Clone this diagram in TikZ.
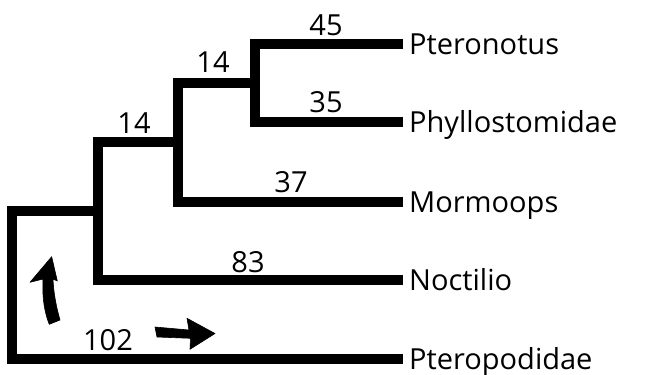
\documentclass[tikz,border=0pt]{standalone}
\usepackage{fontspec}
\setmainfont{Open Sans}
\begin{document}
\begin{tikzpicture}[x=1pt,y=-1pt,
  branch/.style={line width=10pt, line join=miter, line cap=butt},
  taxon/.style={anchor=base west, inner sep=0pt, font=\fontsize{29}{34}\selectfont},
  blen/.style={anchor=base, inner sep=0pt, font=\fontsize{29}{34}\selectfont},
  bigarrow/.style={fill=black, draw=black, line width=0.6pt, line join=round}]
\useasboundingbox (0,0) rectangle (646,375);
% tips
\coordinate (tPteron) at (403,44);
\coordinate (tPhyllo) at (403,122);
\coordinate (tMormo) at (403,202);
\coordinate (tNoct) at (403,280);
\coordinate (tPtero) at (403,359);
% internal nodes (where each stem meets its parent's vertical)
\coordinate (c3) at (255,83);
\coordinate (c2) at (178,142);
\coordinate (c1) at (98,211);
\coordinate (c0) at (12,211);
% taxon labels
\node[taxon] (Pteronotus) at (409,54.5) {Pteronotus};
\node[taxon] (Phyllostomidae) at (409,132.5) {Phyllostomidae};
\node[taxon] (Mormoops) at (409,212.5) {Mormoops};
\node[taxon] (Noctilio) at (409,290.5) {Noctilio};
\node[taxon] (Pteropodidae) at (409,369.5) {Pteropodidae};
% branches
\draw[branch] (tPteron) -- (tPteron -| c3) -- (tPhyllo -| c3) -- (tPhyllo);
\draw[branch] (c3) -- (c3 -| c2) -- (tMormo -| c2) -- (tMormo);
\draw[branch] (c2) -- (c2 -| c1) -- (tNoct -| c1) -- (tNoct);
\draw[branch] (c1) -- (c0) -- (tPtero -| c0) -- (tPtero);
% branch lengths
\node[blen] (l45) at (326,35) {45};
\node[blen] (l35) at (326,112) {35};
\node[blen] (l14a) at (213,72) {14};
\node[blen] (l14b) at (134,133) {14};
\node[blen] (l37) at (291,192) {37};
\node[blen] (l83) at (248,272) {83};
\node[blen] (l102) at (108,350) {102};
% arrows
\fill[bigarrow] (51.7,256.7) -- (30,282.3) -- (43,279)
  .. controls (42,299) and (45,314) .. (49.3,324.3)
  -- (60,320)
  .. controls (56,306) and (53.5,292) .. (53,279)
  -- (57.3,281) -- cycle;
\fill[bigarrow] (155,327) -- (189,330) -- (187,318.3) -- (215,333.5)
  -- (190,349.3) -- (190.5,338.3) -- (157,337) -- cycle;
\end{tikzpicture}
\end{document}
